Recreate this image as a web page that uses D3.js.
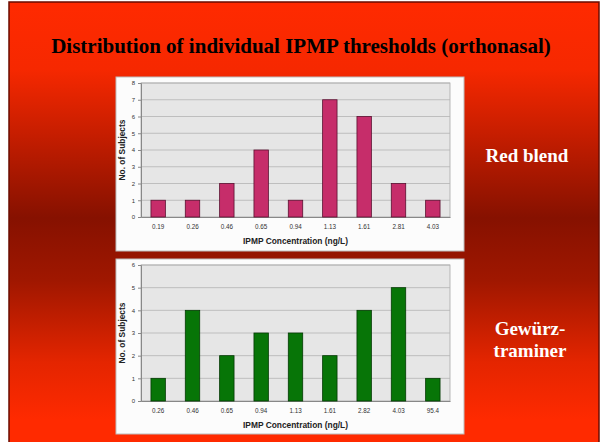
<!DOCTYPE html>
<html>
<head>
<meta charset="utf-8">
<script src="https://cdn.jsdelivr.net/npm/d3@7"></script>
<style>
  html, body { margin: 0; padding: 0; background: #ffffff; }
  svg { display: block; }
</style>
</head>
<body>
<script>
// Threshold categories (ng/L) and subject counts per wine
const redCategories = ["0.19", "0.26", "0.46", "0.65", "0.94", "1.13", "1.61", "2.81", "4.03"];
const redCounts = [1, 1, 2, 4, 1, 7, 6, 2, 1];
const redTicks = [0, 1, 2, 3, 4, 5, 6, 7, 8];

const gewCategories = ["0.26", "0.46", "0.65", "0.94", "1.13", "1.61", "2.82", "4.03", "95.4"];
const gewCounts = [1, 4, 2, 3, 3, 2, 4, 5, 1];
const gewTicks = [0, 1, 2, 3, 4, 5, 6];

const W = 600, H = 442;
const svg = d3.select("body").append("svg").attr("width", W).attr("height", H);

// Slide background with vertical red gradient
const defs = svg.append("defs");
const grad = defs.append("linearGradient").attr("id", "slideBg")
  .attr("x1", 0).attr("y1", 0).attr("x2", 0).attr("y2", 1);
[[0, "#ff2a00"], [0.15, "#f62800"], [0.3, "#c41d00"], [0.48, "#861100"],
 [0.62, "#a01700"], [0.8, "#e42500"], [0.93, "#ff2a00"], [1, "#ff2a00"]]
  .forEach(([o, c]) => grad.append("stop").attr("offset", o).attr("stop-color", c));

svg.append("rect").attr("x", 9).attr("y", 2).attr("width", 590).attr("height", 450)
  .attr("fill", "url(#slideBg)").attr("stroke", "#6a0c00").attr("stroke-width", 1.5);

svg.append("text").attr("x", 301).attr("y", 53).attr("text-anchor", "middle")
  .attr("font-family", "Liberation Serif, Times New Roman, serif")
  .attr("font-weight", "bold").attr("font-size", 21).attr("fill", "#000")
  .text("Distribution of individual IPMP thresholds (orthonasal)");

const sideLabel = (lines, x, y0, dy) => {
  const t = svg.append("text").attr("x", x).attr("y", y0).attr("text-anchor", "middle")
    .attr("font-family", "Liberation Serif, Times New Roman, serif")
    .attr("font-weight", "bold").attr("font-size", 19).attr("fill", "#fff");
  lines.forEach((l, i) => t.append("tspan").attr("x", x).attr("y", y0 + i * dy).text(l));
};
sideLabel(["Red blend"], 527, 162, 0);
sideLabel(["Gewürz-", "traminer"], 530, 335, 22);

function panel(cfg) {
  const g = svg.append("g");
  g.append("rect").attr("x", cfg.box[0]).attr("y", cfg.box[1])
    .attr("width", cfg.box[2]).attr("height", cfg.box[3])
    .attr("fill", "#fcfcfc").attr("stroke", "#bdbdbd").attr("stroke-width", 1);

  const x = d3.scaleBand().domain(cfg.categories).range([cfg.plot.left, cfg.plot.right])
    .paddingInner(0.58).paddingOuter(0.29);
  const y = d3.scaleLinear().domain([0, d3.max(cfg.ticks)])
    .range([cfg.plot.bottom, cfg.plot.top]);

  // plot area
  g.append("rect").attr("x", cfg.plot.left).attr("y", cfg.plot.top)
    .attr("width", cfg.plot.right - cfg.plot.left).attr("height", cfg.plot.bottom - cfg.plot.top)
    .attr("fill", "#e6e6e6").attr("stroke", "#a8a8a8").attr("stroke-width", 0.8);

  // gridlines
  g.selectAll(".grid").data(cfg.ticks.slice(1)).join("line")
    .attr("x1", cfg.plot.left).attr("x2", cfg.plot.right)
    .attr("y1", d => y(d)).attr("y2", d => y(d))
    .attr("stroke", "#b4b4b4").attr("stroke-width", 0.8);

  // y axis
  const yAxis = g.append("g").attr("transform", `translate(${cfg.plot.left},0)`)
    .call(d3.axisLeft(y).tickValues(cfg.ticks).tickFormat(d3.format("d")).tickSize(3).tickPadding(3));
  yAxis.select(".domain").attr("stroke", "#888");
  yAxis.selectAll(".tick line").attr("stroke", "#888");
  yAxis.selectAll("text").attr("font-family", "Liberation Sans, Arial, sans-serif")
    .attr("font-size", 6).attr("fill", "#333");

  // x axis
  const xAxis = g.append("g").attr("transform", `translate(0,${cfg.plot.bottom})`)
    .call(d3.axisBottom(x).tickSize(0).tickPadding(8));
  xAxis.select(".domain").attr("stroke", "#888");
  xAxis.selectAll("text").attr("font-family", "Liberation Sans, Arial, sans-serif")
    .attr("font-size", 6.3).attr("fill", "#333");

  // bars
  g.selectAll(".bar").data(cfg.counts).join("rect")
    .attr("x", (d, i) => x(cfg.categories[i]))
    .attr("y", d => y(d))
    .attr("width", x.bandwidth())
    .attr("height", d => y(0) - y(d))
    .attr("fill", cfg.color).attr("stroke", cfg.stroke).attr("stroke-width", 0.8);

  // axis titles
  g.append("text").attr("x", (cfg.plot.left + cfg.plot.right) / 2).attr("y", cfg.xTitleY)
    .attr("text-anchor", "middle").attr("font-family", "Liberation Sans, Arial, sans-serif")
    .attr("font-weight", "bold").attr("font-size", 8.4).attr("fill", "#222")
    .text("IPMP Concentration (ng/L)");
  g.append("text")
    .attr("transform", `translate(${cfg.yTitleX},${(cfg.plot.top + cfg.plot.bottom) / 2}) rotate(-90)`)
    .attr("text-anchor", "middle").attr("font-family", "Liberation Sans, Arial, sans-serif")
    .attr("font-weight", "bold").attr("font-size", 8.4).attr("fill", "#222")
    .text("No. of Subjects");
}

panel({
  box: [116, 77, 348, 174],
  plot: { left: 141, right: 450, top: 83, bottom: 217 },
  categories: redCategories, counts: redCounts, ticks: redTicks,
  color: "#c62d6a", stroke: "#5a1030",
  xTitleY: 244, yTitleX: 125
});

panel({
  box: [116, 259, 348, 175],
  plot: { left: 141, right: 450, top: 265, bottom: 401 },
  categories: gewCategories, counts: gewCounts, ticks: gewTicks,
  color: "#077507", stroke: "#033a03",
  xTitleY: 428, yTitleX: 125
});
</script>
</body>
</html>
